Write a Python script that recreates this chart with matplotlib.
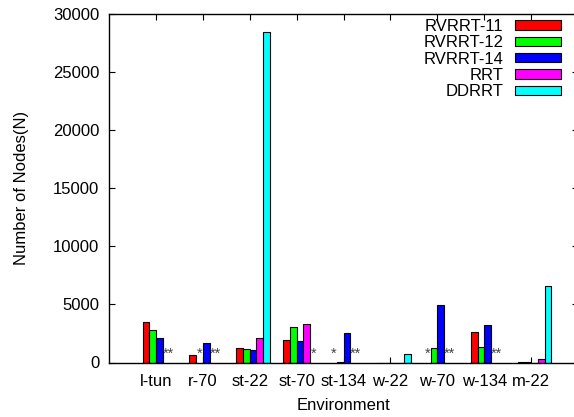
import numpy as np
import matplotlib
matplotlib.use("Agg")
import matplotlib.pyplot as plt
from matplotlib.patches import Patch

plt.rcParams['font.family'] = ['Liberation Sans', 'DejaVu Sans']

# Environments and node counts per planner (nan = run failed, marked with *)
environments = ['l-tun', 'r-70', 'st-22', 'st-70', 'st-134', 'w-22', 'w-70', 'w-134', 'm-22']
series_names = ['RVRRT-11', 'RVRRT-12', 'RVRRT-14', 'RRT', 'DDRRT']
rvrrt11 = [3510, 630, 1270, 1960, np.nan, 0, np.nan, 2600, 20]
rvrrt12 = [2810, np.nan, 1160, 3030, 30, 0, 1270, 1360, 20]
rvrrt14 = [2150, 1640, 1050, 1820, 2570, 0, 4950, 3260, 0]
rrt = [np.nan, np.nan, 2110, 3310, np.nan, 0, np.nan, np.nan, 330]
ddrrt = [np.nan, np.nan, 28460, np.nan, np.nan, 700, np.nan, np.nan, 6610]
y_ticks = [0, 5000, 10000, 15000, 20000, 25000, 30000]

colors = ['#ff0000', '#00ff00', '#0000ff', '#ff00ff', '#00ffff']
series = [rvrrt11, rvrrt12, rvrrt14, rrt, ddrrt]

W, H = 574, 417
fig = plt.figure(figsize=(W / 100, H / 100), dpi=100)
ax = fig.add_axes([109 / W, 54.5 / H, 469 / W, 348.5 / H])

n = len(series)
slot = 1.0 / (n + 2)          # gap of two bar widths between clusters
x = np.arange(len(environments))
fs = 12

for i, (vals, c) in enumerate(zip(series, colors)):
    pos = x + (i - (n - 1) / 2 + 0.5) * slot
    ax.bar(pos, np.asarray(vals, dtype=float), width=slot, color=c,
           edgecolor='black', linewidth=0.8, zorder=2)

# failed runs: consecutive failures in a cluster are grouped under one label
for g in range(len(environments)):
    failed = [i for i in range(n) if np.isnan(series[i][g])]
    runs = []
    for i in failed:
        if runs and runs[-1][-1] == i - 1:
            runs[-1].append(i)
        else:
            runs.append([i])
    for run in runs:
        centers = [g + (i - (n - 1) / 2 + 0.5) * slot for i in run]
        xc = np.mean(centers) - (0.025 if len(run) > 1 else 0)
        ax.text(xc, 380, '*' * len(run), ha='center', va='baseline',
                fontsize=10.5, color='#444444', zorder=3)

ax.set_xlim(-1, 9)
ax.set_ylim(0, 30000)
ax.set_xticks(x)
ax.set_xticklabels(environments, fontsize=fs)
ax.set_yticks(y_ticks)
ax.set_yticklabels([str(v) for v in y_ticks], fontsize=fs)
ax.tick_params(axis='both', direction='in', length=4, width=0.8,
               top=True, right=True, color='black')
ax.tick_params(axis='y', pad=7)
ax.tick_params(axis='x', pad=8.5)
for s in ax.spines.values():
    s.set_linewidth(1.0)

ax.set_xlabel('Environment', fontsize=fs, labelpad=6.5)
ax.set_ylabel('Number of Nodes(N)', fontsize=fs, labelpad=17)

handles = [Patch(facecolor=c, edgecolor='black', linewidth=0.8) for c in colors]
leg = ax.legend(handles, series_names, loc='upper right', frameon=False,
                markerfirst=False, fontsize=fs, handlelength=2.75,
                handleheight=0.48, handletextpad=0.72, labelspacing=0.08,
                borderaxespad=0, borderpad=0,
                bbox_to_anchor=(561 / W, (H - 19) / H),
                bbox_transform=fig.transFigure)

fig.savefig('out.png', dpi=100)
